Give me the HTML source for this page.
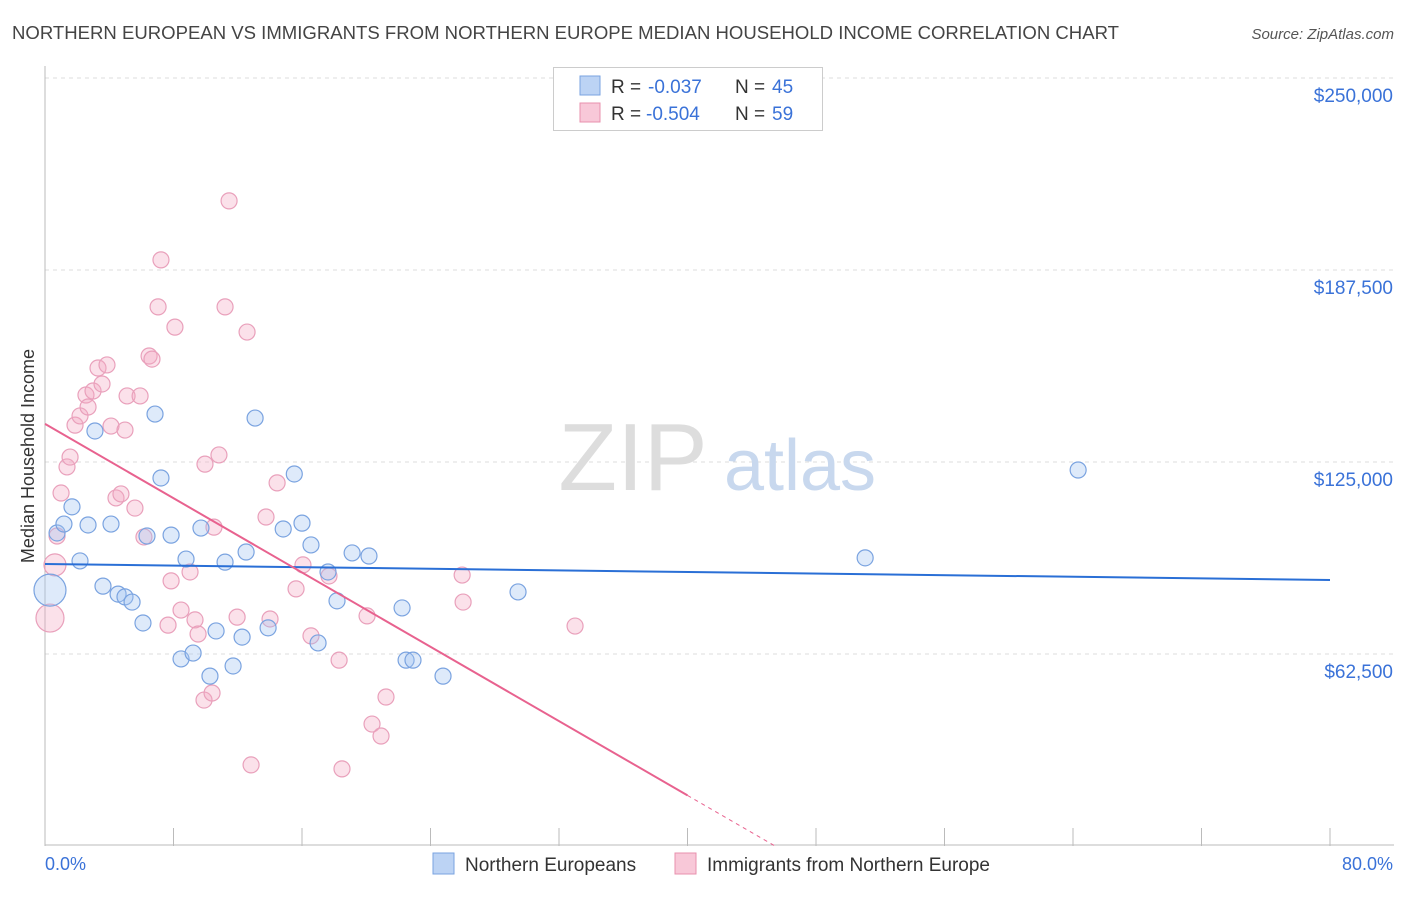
<!DOCTYPE html>
<html><head><meta charset="utf-8"><style>
body{margin:0;background:#fff;font-family:"Liberation Sans",sans-serif;}
svg text{font-family:"Liberation Sans",sans-serif;}
</style></head><body>
<svg width="1406" height="892">
<text x="12" y="39" font-size="18" fill="#444" textLength="1107" lengthAdjust="spacingAndGlyphs">NORTHERN EUROPEAN VS IMMIGRANTS FROM NORTHERN EUROPE MEDIAN HOUSEHOLD INCOME CORRELATION CHART</text>
<text x="1394" y="39" font-size="15" fill="#555" text-anchor="end" font-style="italic">Source: ZipAtlas.com</text>
<g id="grid"></g>
<text x="633" y="490" font-size="96" fill="#ddd" font-family="Liberation Serif" text-anchor="middle">ZIP</text>
<text x="800" y="490" font-size="72" fill="#c8d8ee" text-anchor="middle">atlas</text>
<g id="pts"></g><g id="lines"></g>
<text transform="translate(34,456) rotate(-90)" font-size="18" fill="#333" text-anchor="middle">Median Household Income</text>
<text x="45" y="870" font-size="18" fill="#3a72d8">0.0%</text>
<text x="1393" y="870" font-size="18" fill="#3a72d8" text-anchor="end">80.0%</text>
<g>
<rect x="553.5" y="67.5" width="269" height="63" fill="#fff" stroke="#ccc"/>
<rect x="580" y="76" width="20" height="19" fill="#bcd3f4" stroke="#7aa3e0"/>
<rect x="580" y="103" width="20" height="19" fill="#f8c8d8" stroke="#e890ae"/>
<text x="611" y="93" font-size="19" fill="#333">R =</text><text x="648" y="93" font-size="19" fill="#3a72d8">-0.037</text>
<text x="735" y="93" font-size="19" fill="#333">N =</text><text x="772" y="93" font-size="19" fill="#3a72d8">45</text>
<text x="611" y="120" font-size="19" fill="#333">R =</text><text x="646" y="120" font-size="19" fill="#3a72d8">-0.504</text>
<text x="735" y="120" font-size="19" fill="#333">N =</text><text x="772" y="120" font-size="19" fill="#3a72d8">59</text>
</g>
<g><rect x="433" y="853" width="21" height="21" fill="#bcd3f4" stroke="#7aa3e0"/><text x="465" y="871" font-size="19" fill="#333">Northern Europeans</text></g>
<g><rect x="675" y="853" width="21" height="21" fill="#f8c8d8" stroke="#e890ae"/><text x="707" y="871" font-size="19" fill="#333">Immigrants from Northern Europe</text></g>
</svg>
<script>
const yTicks=[62500,125000,187500,250000];
const yTickLabels=["$62,500","$125,000","$187,500","$250,000"];
const blueX=[0.31,0.75,1.18,1.68,2.18,2.68,3.11,3.61,4.11,4.55,4.98,5.42,6.10,6.35,6.85,7.22,7.85,8.47,8.78,9.22,9.71,10.27,10.65,11.21,11.71,12.27,12.52,13.08,13.89,14.83,15.52,16.00,16.56,17.00,17.62,18.18,19.12,20.17,22.23,22.48,22.91,24.78,29.45,51.06,64.32];
const blueY=[83.3,101.9,104.8,110.4,92.8,104.5,135.1,84.6,104.8,82.0,81.1,79.4,72.6,100.9,140.6,119.8,101.2,60.9,93.4,62.8,103.5,55.3,70.0,92.4,58.6,68.0,95.7,139.3,71.0,103.2,121.1,105.1,98.0,66.1,89.2,79.8,95.4,94.4,77.5,60.5,60.5,55.3,82.7,93.8,122.4];
const pinkX=[0.31,0.62,0.75,1.00,1.37,1.56,1.87,2.18,2.55,2.68,2.99,3.30,3.55,3.86,4.11,4.42,4.73,4.98,5.11,5.60,5.92,6.16,6.48,6.66,7.04,7.22,7.66,7.85,8.09,8.47,9.03,9.34,9.53,9.90,10.40,9.96,10.52,10.83,11.21,11.46,11.96,12.58,12.83,13.76,14.01,14.45,15.63,16.06,16.56,17.68,18.31,18.49,20.05,20.36,20.92,21.23,25.97,26.03,33.00];
const pinkY=[74.2,91.5,100.9,114.9,123.4,126.6,137.0,140.0,146.8,142.9,148.1,155.6,150.4,156.6,136.7,113.3,114.6,135.4,146.5,110.0,146.5,100.6,159.5,158.5,175.5,190.8,71.9,86.3,168.9,76.8,89.2,73.6,69.0,47.5,49.8,124.3,103.8,127.3,175.5,210.0,74.5,167.3,26.4,107.1,73.9,118.2,83.7,91.5,68.4,87.9,60.5,25.1,74.9,39.7,35.8,48.5,88.2,79.4,71.6];
const blueTrend=[91.8,86.6];
const pinkTrend=[137.4,0];const pinkZeroX=45.45;
const NS="http://www.w3.org/2000/svg";
const xs=v=>45+v*16.0625, ys=k=>846-k*1000/62500*192;
function mk(t,a,p){const e=document.createElementNS(NS,t);for(const k in a)e.setAttribute(k,a[k]);p.appendChild(e);return e;}
const grid=document.getElementById('grid');
yTicks.forEach((v,i)=>{
 const l=mk('line',{x1:45,x2:1394,y1:ys(v/1000),y2:ys(v/1000),stroke:'#ddd','stroke-dasharray':'4,4'},grid);
 
 
 const t=mk('text',{x:1393,y:ys(v/1000)+24,'font-size':19,fill:'#3a72d8','text-anchor':'end'},grid);t.textContent=yTickLabels[i];
 
 
});
mk('line',{x1:45,x2:45,y1:66,y2:846,stroke:'#bbb'},grid);
mk('line',{x1:45,x2:1394,y1:845,y2:845,stroke:'#bbb'},grid);
for(let i=0;i<=10;i++){const tk=mk('line',{x1:xs(i*8),x2:xs(i*8),y1:828,y2:846,stroke:'#bbb'},grid);
 
 }
const pts=document.getElementById('pts');
pinkX.forEach((x,i)=>{const c=mk('circle',{cx:xs(x),cy:ys(pinkY[i]),r:i<2?(i==0?14:11):8,fill:'rgba(244,170,196,0.35)',stroke:'#e9a0bb','stroke-width':1.2},pts);
 
 });
blueX.forEach((x,i)=>{const c=mk('circle',{cx:xs(x),cy:ys(blueY[i]),r:i==0?16:8,fill:'rgba(160,195,240,0.35)',stroke:'#7aa3e0','stroke-width':1.2},pts);
 
 });
const L=document.getElementById('lines');
const b=mk('line',{x1:xs(0),y1:ys(blueTrend[0]),x2:xs(80),y2:ys(blueTrend[1]),stroke:'#2a6fd6','stroke-width':2},L);


const slope=(pinkTrend[1]-pinkTrend[0])/pinkZeroX;
const p=mk('line',{x1:xs(0),y1:ys(pinkTrend[0]),x2:xs(40),y2:ys(pinkTrend[0]+slope*40),stroke:'#e8628f','stroke-width':2},L);


const pd=mk('line',{x1:xs(40),y1:ys(pinkTrend[0]+slope*40),x2:xs(pinkZeroX),y2:ys(0),stroke:'#e8628f','stroke-width':1,'stroke-dasharray':'4,4'},L);


</script>
</body></html>
